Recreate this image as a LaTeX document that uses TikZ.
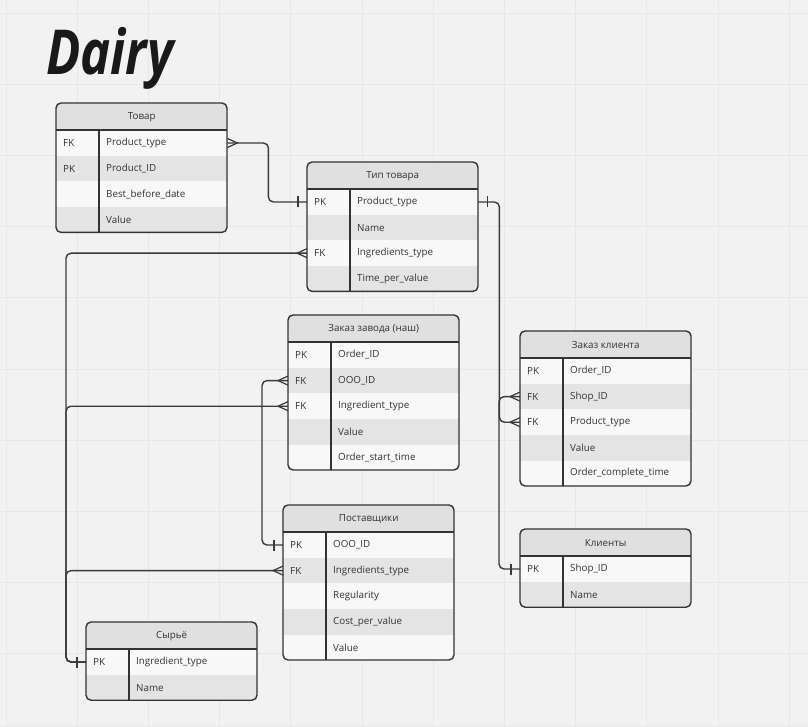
\documentclass[tikz,border=0pt]{standalone}
\usepackage{fontspec}
\setmainfont{Open Sans}
\usetikzlibrary{decorations.markings}

\definecolor{paper}{HTML}{F2F2F2}
\definecolor{gridgray}{HTML}{E7E7E7}
\definecolor{headgray}{HTML}{E0E0E0}
\definecolor{rowlight}{HTML}{F8F8F8}
\definecolor{rowdark}{HTML}{E4E4E4}
\definecolor{ink}{HTML}{333333}
\definecolor{wire}{HTML}{3A3A3A}

\tikzset{
  erhead/.style={minimum width=171pt, minimum height=27pt, inner sep=0pt, fill=headgray, text=ink, font=\fontsize{9.8}{12}\selectfont},
  errow/.style={minimum width=171pt, minimum height=25.6pt, inner sep=0pt},
  ertext/.style={inner sep=0pt, text=ink, font=\fontsize{9.8}{12}\selectfont},
  erline/.style={draw=ink, line width=1.4pt},
  conn/.style={draw=wire, line width=1.4pt, rounded corners=5pt},
  barfrom/.style={postaction={decorate, decoration={markings, mark=at position 9pt with {\draw[wire, line width=1.4pt, sharp corners] (0pt,-5.5pt) -- (0pt,5.5pt);}}}},
  barto/.style={postaction={decorate, decoration={markings, mark=at position -9pt with {\draw[wire, line width=1.4pt, sharp corners] (0pt,-5.5pt) -- (0pt,5.5pt);}}}},
  crowfrom/.style={postaction={decorate, decoration={markings, mark=at position 0 with {\draw[wire, line width=1.2pt, sharp corners] (0pt,4.5pt) -- (10pt,0pt) -- (0pt,-4.5pt);}}}},
  crowto/.style={postaction={decorate, decoration={markings, mark=at position 1 with {\draw[wire, line width=1.2pt, sharp corners] (0pt,4.5pt) -- (-10pt,0pt) -- (0pt,-4.5pt);}}}},
}

% #1 name, #2 left, #3 top, #4 rows, #5 title, #6 key/field list
\newcommand{\ertable}[6]{%
  \pgfmathsetmacro\erbot{#3+27+#4*25.6}
  \begin{scope}
    \clip[rounded corners=5pt] (#2,#3) rectangle (#2+171,\erbot);
    \node[erhead, anchor=north west] (#1-h) at (#2,#3) {#5};
    \foreach \k/\f [count=\i] in {#6} {
      \ifodd\i\relax\def\rowcol{rowlight}\else\def\rowcol{rowdark}\fi
      \node[errow, fill=\rowcol, anchor=north west] (#1-\i) at (#2,#3+27+\i*25.6-25.6) {};
      \node[ertext, anchor=west] (#1-\i-k) at ([xshift=7pt]#1-\i.west) {\k};
      \node[ertext, anchor=west] (#1-\i-f) at ([xshift=50pt]#1-\i.west) {\f};
    }
  \end{scope}
  \draw[erline] (#2,#3+27) -- (#2+171,#3+27);
  \draw[erline] (#2+43,#3+27) -- (#2+43,\erbot);
  \draw[erline, rounded corners=5pt] (#2,#3) rectangle (#2+171,\erbot);
}

\begin{document}
\begin{tikzpicture}[x=1pt,y=-1pt]
  \useasboundingbox (0,0) rectangle (808,727);
  \fill[paper] (0,0) rectangle (808,727);
  \foreach \i in {0,...,11} \draw[gridgray, line width=0.9pt] (6+71.2*\i,0) -- (6+71.2*\i,727);
  \foreach \i in {0,...,10} \draw[gridgray, line width=0.9pt] (0,13+71.2*\i) -- (808,13+71.2*\i);

  \node[anchor=base west, xscale=0.82, inner sep=0pt, text=black!90, font=\fontsize{62}{62}\selectfont\bfseries\itshape] (title) at (46,75) {Dairy};

  \ertable{tov}{56}{103}{4}{Товар}{FK/Product\_type, PK/Product\_ID, /Best\_before\_date, /Value}
  \ertable{tip}{307}{162}{4}{Тип товара}{PK/Product\_type, /Name, FK/Ingredients\_type, /Time\_per\_value}
  \ertable{zz}{288}{315}{5}{Заказ завода (наш)}{PK/Order\_ID, FK/OOO\_ID, FK/Ingredient\_type, /Value, /Order\_start\_time}
  \ertable{zk}{520}{331}{5}{Заказ клиента}{PK/Order\_ID, FK/Shop\_ID, FK/Product\_type, /Value, /Order\_complete\_time}
  \ertable{post}{283}{505}{5}{Поставщики}{PK/OOO\_ID, FK/Ingredients\_type, /Regularity, /Cost\_per\_value, /Value}
  \ertable{kl}{520}{529}{2}{Клиенты}{PK/Shop\_ID, /Name}
  \ertable{syr}{86}{622}{2}{Сырьё}{PK/Ingredient\_type, /Name}

  \draw[conn, crowfrom, barto] (tov-1.east) -- ([xshift=41pt]tov-1.east) |- (tip-1.west);
  \draw[conn, barfrom, crowto] (tip-1.east) -- ([xshift=21pt]tip-1.east) |- (zk-3.west);
  \draw[conn, barfrom, crowto] (kl-1.west) -- ([xshift=-21pt]kl-1.west) |- (zk-2.west);
  \draw[conn, barfrom, crowto] (syr-1.west) -- ([xshift=-20pt]syr-1.west) |- (tip-3.west);
  \draw[conn, crowto] (syr-1.west) -- ([xshift=-20pt]syr-1.west) |- (zz-3.west);
  \draw[conn, crowto] (syr-1.west) -- ([xshift=-20pt]syr-1.west) |- (post-2.west);
  \draw[conn, crowfrom, barto] (zz-2.west) -- ([xshift=-26pt]zz-2.west) |- (post-1.west);
\end{tikzpicture}
\end{document}
